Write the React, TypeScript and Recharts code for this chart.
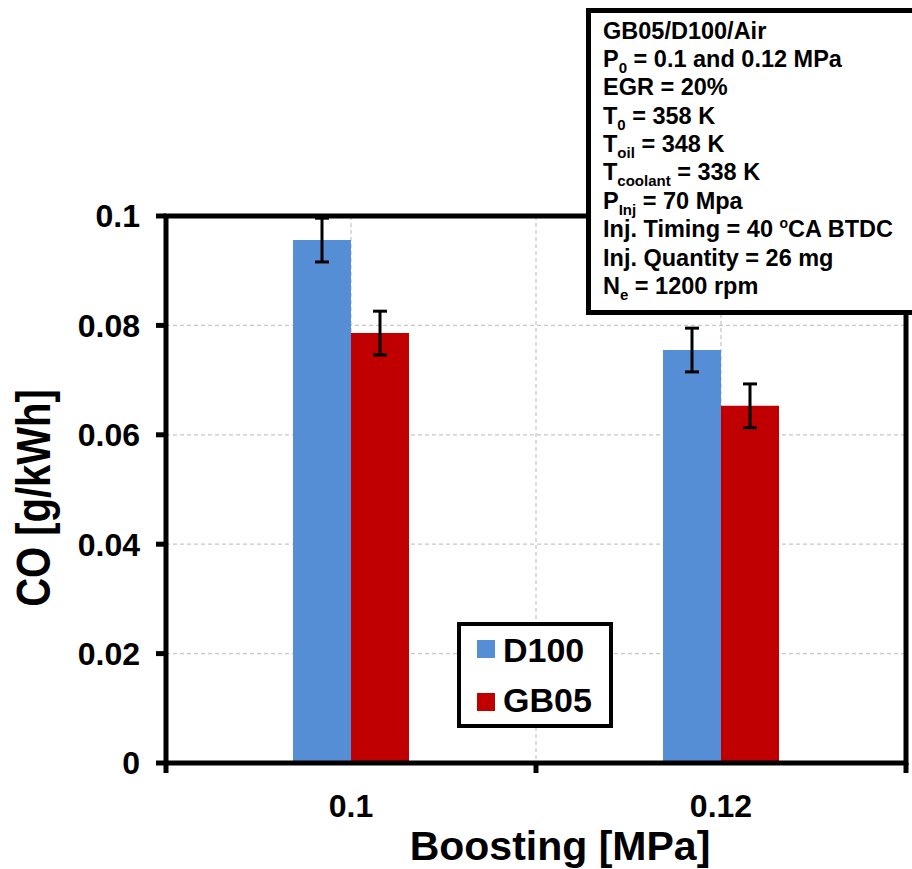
import React from 'react';
import {
  BarChart,
  Bar,
  XAxis,
  YAxis,
  CartesianGrid,
  ErrorBar,
  Legend,
} from 'recharts';

// Boost pressure categories and CO emissions per fuel
const CATEGORIES = ['0.1', '0.12'];
const D100 = [0.0956, 0.0755];
const GB05 = [0.0786, 0.0653];
const D100_ERR = [0.004, 0.004];
const GB05_ERR = [0.004, 0.004];
const Y_TICKS = [0, 0.02, 0.04, 0.06, 0.08, 0.1];

// Test conditions; segments are [text, kind] where kind is '', 'sub' or 'sup'
const CONDITIONS: [string, string][][] = [
  [['GB05/D100/Air', '']],
  [['P', ''], ['0', 'sub'], [' = 0.1 and 0.12 MPa', '']],
  [['EGR = 20%', '']],
  [['T', ''], ['0', 'sub'], [' = 358 K', '']],
  [['T', ''], ['oil', 'sub'], [' = 348 K', '']],
  [['T', ''], ['coolant', 'sub'], [' = 338 K', '']],
  [['P', ''], ['Inj', 'sub'], [' = 70 Mpa', '']],
  [['Inj. Timing = 40 ', ''], ['o', 'sup'], ['CA BTDC', '']],
  [['Inj. Quantity = 26 mg', '']],
  [['N', ''], ['e', 'sub'], [' = 1200 rpm', '']],
];

const W = 912;
const H = 869;
const PLOT_LEFT = 166;
const PLOT_RIGHT = 906;
const PLOT_TOP = 216;
const PLOT_BOTTOM = 763;
const X_AXIS_H = 60;
const FONT = '"Liberation Sans", Arial, Helvetica, sans-serif';

const BLUE = '#558ed5';
const RED = '#c00000';

const data = CATEGORIES.map((cat, i) => ({
  cat,
  d100: D100[i],
  gb05: GB05[i],
  d100Err: D100_ERR[i],
  gb05Err: GB05_ERR[i],
}));

function LegendBox({ payload }: any) {
  const items = (payload || []).map((p: any) => ({ label: p.value, color: p.color }));
  return (
    <svg width={156} height={106} style={{ display: 'block' }}>
      <rect x={2} y={2} width={152} height={102} fill="#fff" stroke="#000" strokeWidth={4} />
      {items.map((it: any, i: number) => (
        <g key={it.label}>
          <rect x={20} y={18 + i * 53} width={18} height={18} fill={it.color} />
          <text
            x={46}
            y={40 + i * 50}
            fontFamily={FONT}
            fontWeight={700}
            fontSize={34}
            fill="#000"
          >
            {it.label}
          </text>
        </g>
      ))}
    </svg>
  );
}

function ConditionsBox() {
  return (
    <div
      style={{
        position: 'absolute',
        left: 586,
        top: 8,
        width: 340,
        height: 307,
        boxSizing: 'border-box',
        border: '5px solid #000',
        background: '#fff',
        fontFamily: FONT,
        fontWeight: 700,
        fontSize: 23.5,
        color: '#000',
        paddingLeft: 12,
        paddingTop: 3.5,
      }}
    >
      {CONDITIONS.map((line, i) => (
        <div key={i} style={{ height: 28.4, lineHeight: '28.4px', whiteSpace: 'nowrap' }}>
          {line.map(([txt, kind], j) =>
            kind === '' ? (
              <span key={j}>{txt}</span>
            ) : (
              <span
                key={j}
                style={{
                  fontSize: kind === 'sub' ? 15 : 14,
                  position: 'relative',
                  top: kind === 'sub' ? 6 : -9,
                  lineHeight: 0,
                }}
              >
                {txt}
              </span>
            )
          )}
        </div>
      ))}
    </div>
  );
}

// Plot frame, category boundary ticks and axis titles
function Frame() {
  const n = CATEGORIES.length;
  const band = (PLOT_RIGHT - PLOT_LEFT) / n;
  const edges = Array.from({ length: n + 1 }, (_, i) => PLOT_LEFT + band * i);
  return (
    <svg
      width={W}
      height={H}
      style={{ position: 'absolute', left: 0, top: 0, pointerEvents: 'none' }}
    >
      <rect
        x={PLOT_LEFT}
        y={PLOT_TOP}
        width={PLOT_RIGHT - PLOT_LEFT}
        height={PLOT_BOTTOM - PLOT_TOP}
        fill="none"
        stroke="#000"
        strokeWidth={5}
      />
      {edges.map((x) => (
        <line key={x} x1={x} x2={x} y1={PLOT_BOTTOM} y2={PLOT_BOTTOM + 10} stroke="#000" strokeWidth={5} />
      ))}
      <text
        x={560}
        y={860}
        textAnchor="middle"
        fontFamily={FONT}
        fontWeight={700}
        fontSize={41}
        fill="#000"
      >
        Boosting [MPa]
      </text>
      <text
        transform="translate(50,498) rotate(-90) scale(1,1.18)"
        textAnchor="middle"
        fontFamily={FONT}
        fontWeight={700}
        fontSize={40}
        fill="#000"
      >
        CO [g/kWh]
      </text>
    </svg>
  );
}

export default function App() {
  const tickStyle = { fontSize: 32, fontWeight: 700, fill: '#000', fontFamily: FONT };
  return (
    <div
      style={{
        position: 'absolute',
        left: 0,
        top: 0,
        width: W,
        height: H,
        background: '#fff',
        fontFamily: FONT,
      }}
    >
      <BarChart
        width={W}
        height={H}
        data={data}
        margin={{
          top: PLOT_TOP,
          right: W - PLOT_RIGHT,
          bottom: H - PLOT_BOTTOM - X_AXIS_H,
          left: 0,
        }}
        barGap={0}
      >
        <CartesianGrid
          stroke="#c8c8c8"
          strokeDasharray="4 3"
          strokeWidth={1.3}
          verticalCoordinatesGenerator={({ offset }: any) => {
            const n = CATEGORIES.length * 2;
            return Array.from({ length: n - 1 }, (_, i) => offset.left + (offset.width * (i + 1)) / n);
          }}
        />
        <XAxis
          dataKey="cat"
          height={X_AXIS_H}
          axisLine={false}
          tickLine={false}
          tickSize={9}
          tickMargin={22}
          tick={tickStyle}
        />
        <YAxis
          width={PLOT_LEFT}
          domain={[0, 0.1]}
          ticks={Y_TICKS}
          allowDataOverflow
          axisLine={false}
          tickSize={10}
          tickMargin={16}
          tickLine={{ stroke: '#000', strokeWidth: 5 }}
          tick={tickStyle}
          tickFormatter={(v: number) => (v === 0 ? '0' : String(+v.toFixed(2)))}
        />
        <Legend
          layout="vertical"
          align="center"
          verticalAlign="middle"
          wrapperStyle={{ left: 457, top: 622, width: 156, height: 106 }}
          content={<LegendBox />}
        />
        <Bar dataKey="d100" name="D100" fill={BLUE} barSize={58} isAnimationActive={false}>
          <ErrorBar dataKey="d100Err" width={7} strokeWidth={3} stroke="#000" />
        </Bar>
        <Bar dataKey="gb05" name="GB05" fill={RED} barSize={58} isAnimationActive={false}>
          <ErrorBar dataKey="gb05Err" width={7} strokeWidth={3} stroke="#000" />
        </Bar>
      </BarChart>
      <Frame />
      <ConditionsBox />
    </div>
  );
}
